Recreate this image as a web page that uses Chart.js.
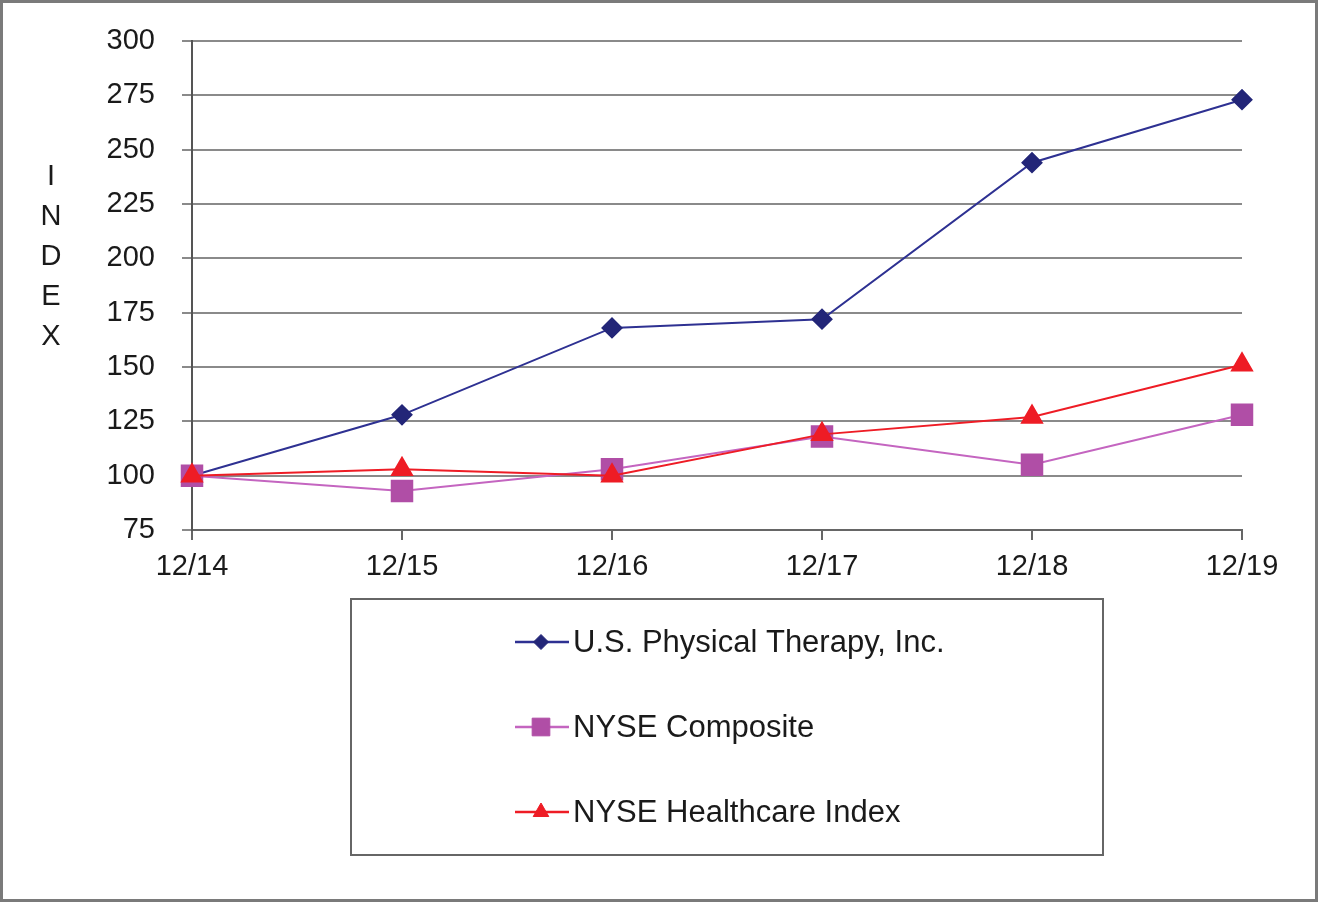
<!DOCTYPE html>
<html>
<head>
<meta charset="utf-8">
<script src="https://cdn.jsdelivr.net/npm/chart.js@4.4.1/dist/chart.umd.min.js"></script>
<style>
  html, body { margin: 0; padding: 0; background: #fff; }
  #wrap { position: relative; width: 1318px; height: 902px; }
</style>
</head>
<body>
<div id="wrap"><canvas id="indexChart"></canvas></div>
<script>
const years = ["12/14", "12/15", "12/16", "12/17", "12/18", "12/19"];
const usPhysical = [100, 128, 168, 172, 244, 273];
const nyseComposite = [100, 93, 103, 118, 105, 128];
const nyseHealthcare = [100, 103, 100, 119, 127, 151];
const yTicks = [75, 100, 125, 150, 175, 200, 225, 250, 275, 300];

const FONT = "'Liberation Sans', Arial, sans-serif";

// frame, vertical "INDEX" title and boxed legend
const decorations = {
  id: "decorations",
  beforeDraw(chart) {
    const c = chart.ctx;
    c.save();
    c.fillStyle = "#fff";
    c.fillRect(0, 0, chart.width, chart.height);
    c.restore();
  },
  afterDraw(chart) {
    const c = chart.ctx;
    c.save();

    c.strokeStyle = "#7a7a7a";
    c.lineWidth = 3;
    c.strokeRect(1.5, 1.5, chart.width - 3, chart.height - 3);

    c.fillStyle = "#1a1a1a";
    c.font = "29px " + FONT;
    c.textAlign = "center";
    c.textBaseline = "middle";
    "INDEX".split("").forEach((ch, i) => {
      c.fillText(ch, 51, 177 + i * 40);
    });

    c.strokeStyle = "#666";
    c.lineWidth = 2;
    c.strokeRect(351, 599, 752, 256);

    const rows = [642, 727, 812];
    const legendRadius = [7.5, 12.5, 9];
    chart.data.datasets.forEach((ds, i) => {
      const y = rows[i];
      c.strokeStyle = ds.borderColor;
      c.lineWidth = 2.5;
      c.beginPath();
      c.moveTo(515, y);
      c.lineTo(569, y);
      c.stroke();
      c.fillStyle = ds.pointBackgroundColor;
      c.strokeStyle = ds.pointBorderColor;
      c.lineWidth = 1;
      Chart.helpers.drawPoint(c, {
        pointStyle: ds.pointStyle,
        radius: legendRadius[i],
        rotation: 0,
        borderWidth: 1
      }, 541, y);
      c.fillStyle = "#1a1a1a";
      c.font = "31px " + FONT;
      c.textAlign = "left";
      c.textBaseline = "middle";
      c.fillText(ds.label, 573, y + 1);
    });

    c.restore();
  }
};

new Chart(document.getElementById("indexChart"), {
  type: "line",
  data: {
    labels: years,
    datasets: [
      {
        label: "U.S. Physical Therapy, Inc.",
        data: usPhysical,
        borderColor: "#2e3192",
        borderWidth: 2,
        pointStyle: "rectRot",
        pointRadius: 9.5,
        pointBackgroundColor: "#232678",
        pointBorderColor: "#232678",
        tension: 0,
        order: 3
      },
      {
        label: "NYSE Composite",
        data: nyseComposite,
        borderColor: "#c465c0",
        borderWidth: 2,
        pointStyle: "rect",
        pointRadius: 14.5,
        pointBackgroundColor: "#b04ea6",
        pointBorderColor: "#b04ea6",
        tension: 0,
        order: 2
      },
      {
        label: "NYSE Healthcare Index",
        data: nyseHealthcare,
        borderColor: "#ee1c25",
        borderWidth: 2,
        pointStyle: "triangle",
        pointRadius: 11.5,
        pointBackgroundColor: "#ee1c25",
        pointBorderColor: "#ee1c25",
        tension: 0,
        order: 1
      }
    ]
  },
  options: {
    responsive: true,
    maintainAspectRatio: false,
    animation: false,
    layout: {
      padding: { top: 41, right: 76, left: 0, bottom: 0 }
    },
    plugins: {
      legend: { display: false },
      tooltip: { enabled: false }
    },
    scales: {
      x: {
        offset: false,
        afterFit(scale) { scale.height = 372; },
        grid: {
          drawOnChartArea: false,
          drawTicks: true,
          tickLength: 10,
          color: "#666",
          lineWidth: 2
        },
        border: { display: true, color: "#666", width: 2 },
        ticks: {
          color: "#1a1a1a",
          padding: 10,
          maxRotation: 0,
          font: { family: FONT, size: 29 }
        }
      },
      y: {
        min: 75,
        max: 300,
        afterFit(scale) {
          scale.width = 192;
          scale.paddingTop = 0;
          scale.paddingBottom = 0;
        },
        afterBuildTicks(scale) {
          scale.ticks = yTicks.map(v => ({ value: v }));
        },
        grid: {
          color: "#8a8a8a",
          lineWidth: 2,
          drawTicks: true,
          tickLength: 10
        },
        border: { display: true, color: "#555", width: 2 },
        ticks: {
          color: "#1a1a1a",
          padding: 27,
          font: { family: FONT, size: 29 }
        }
      }
    }
  },
  plugins: [decorations]
});
</script>
</body>
</html>
